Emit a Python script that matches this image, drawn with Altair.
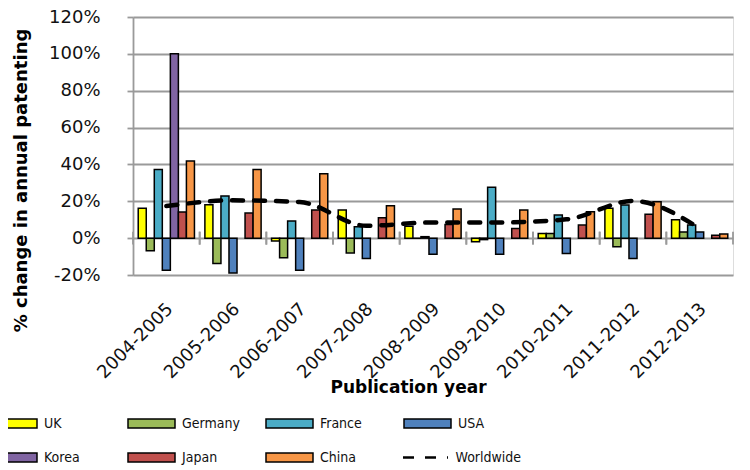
import altair as alt
import pandas as pd

periods = ["2004-2005", "2005-2006", "2006-2007", "2007-2008", "2008-2009",
           "2009-2010", "2010-2011", "2011-2012", "2012-2013"]
countries = ["UK", "Germany", "France", "USA", "Korea", "Japan", "China"]
colors = ["#FFFF00", "#9BBB59", "#4BACC6", "#4F81BD", "#8064A2", "#C0504D", "#F79646"]

uk = [16.2, 18.1, -1.5, 15.3, 6.5, -2.0, 2.5, 16.2, 10.0]
germany = [-6.9, -13.8, -10.7, -8.0, 0.0, -0.8, 2.5, -4.7, 3.4]
france = [37.2, 22.9, 9.3, 6.2, 0.8, 27.6, 12.5, 18.0, 7.1]
usa = [-17.4, -18.9, -17.4, -11.1, -8.7, -8.7, -8.3, -11.1, 3.4]
korea = [100.0, None, None, None, None, None, None, None, None]
japan = [14.2, 13.6, 15.3, 11.1, 7.4, 5.3, 7.1, 12.9, 1.6]
china = [41.8, 37.2, 34.9, 17.6, 15.8, 15.3, 14.3, 19.8, 2.2]
worldwide = [17.4, 20.5, 19.6, 6.7, 8.5, 8.5, 10.2, 20.2, 5.3]

series = {"UK": uk, "Germany": germany, "France": france, "USA": usa,
          "Korea": korea, "Japan": japan, "China": china}
rows = []
for c in countries:
    for p, v in zip(periods, series[c]):
        if v is not None:
            rows.append({"period": p, "country": c, "value": v})
bars_df = pd.DataFrame(rows)
line_df = pd.DataFrame({"period": periods, "value": worldwide, "series": ["Worldwide"] * len(periods)})
tick_df = pd.DataFrame({"period": periods})

GRID = "#9a9a9a"
FONT = "DejaVu Sans"
LEGFONT = "Liberation Sans Narrow, DejaVu Sans Condensed, Liberation Sans"

xscale = alt.Scale(domain=periods, paddingInner=0, paddingOuter=0)
yscale = alt.Scale(domain=[-20, 120], nice=False, zero=False)

bars = alt.Chart(bars_df).mark_bar(stroke="black", strokeWidth=1.5).encode(
    x=alt.X("period:N", sort=periods, scale=xscale,
            axis=alt.Axis(labelAngle=315, domain=False, ticks=False, grid=False,
                          labelPadding=31, labelOffset=4, labelFont=FONT, labelFontSize=18,
                          labelColor="#111111",
                          title="Publication year", titleFont=FONT, titleFontSize=17,
                          titleFontWeight="bold", titleColor="#000000",
                          titleX=275, titleY=117, titleBaseline="alphabetic")),
    xOffset=alt.XOffset("country:N", sort=countries,
                        scale=alt.Scale(domain=countries, paddingInner=0, paddingOuter=0.65)),
    y=alt.Y("value:Q", scale=yscale,
            axis=alt.Axis(values=[-20, 0, 20, 40, 60, 80, 100, 120], tickCount=10,
                          labelOverlap=False,
                          labelExpr="datum.value + '%'",
                          grid=True, gridColor=GRID, gridWidth=1.8,
                          domainColor=GRID, domainWidth=1.8,
                          tickColor=GRID, tickWidth=1.8, tickSize=6,
                          labelFont=FONT, labelFontSize=18, labelColor="#111111", labelPadding=27,
                          title="% change in annual patenting", titleFont=FONT,
                          titleFontSize=18, titleFontWeight="bold", titleColor="#000000",
                          titleX=-112, titleY=163, titleBaseline="middle")),
    fill=alt.Fill("country:N", sort=countries,
                  scale=alt.Scale(domain=countries, range=colors),
                  legend=alt.Legend(orient="none", legendX=-144, legendY=398.5,
                                    direction="horizontal", columns=4, gridAlign="all",
                                    columnPadding=25, rowPadding=18, clipHeight=16,
                                    symbolType="M-1,-0.19H1V0.19H-1Z", symbolSize=2209,
                                    symbolStrokeColor="black", symbolStrokeWidth=1.5,
                                    symbolOpacity=1,
                                    labelFont=LEGFONT, labelFontSize=14, labelOffset=6,
                                    labelColor="#111111", title=None, padding=0)),
)

ticks_a = alt.Chart(tick_df).mark_rule(color=GRID, strokeWidth=1.8).encode(
    x=alt.X("period:N", sort=periods, bandPosition=0),
    y=alt.datum(3.5), y2=alt.datum(-3.5),
)
ticks_b = alt.Chart(tick_df).mark_rule(color=GRID, strokeWidth=1.8).encode(
    x=alt.X("period:N", sort=periods, bandPosition=1),
    y=alt.datum(3.5), y2=alt.datum(-3.5),
)

line = alt.Chart(line_df).mark_line(color="black", strokeWidth=4.5, strokeCap="round",
                                    interpolate="monotone").encode(
    x=alt.X("period:N", sort=periods),
    y=alt.Y("value:Q"),
    strokeDash=alt.StrokeDash("series:N",
                              scale=alt.Scale(domain=["Worldwide"], range=[[11, 11]]),
                              legend=alt.Legend(orient="none", legendX=268.5, legendY=432.5,
                                                symbolType="stroke", symbolSize=2025,
                                                clipHeight=16, symbolDash=[5, 3],
                                                symbolStrokeWidth=2.5, symbolStrokeColor="black",
                                                labelFont=LEGFONT, labelFontSize=14, labelOffset=6,
                                                labelColor="#111111", title=None, padding=0)),
)

chart = alt.layer(ticks_a, ticks_b, bars, line).properties(
    width=600, height=258,
    autosize=alt.AutoSizeParams(type="none"),
    padding={"left": 125, "top": 9, "right": 9, "bottom": 192},
).configure_view(stroke=None).configure(background="white")

chart.save("out.html", embed_options={"renderer": "svg", "actions": False})
